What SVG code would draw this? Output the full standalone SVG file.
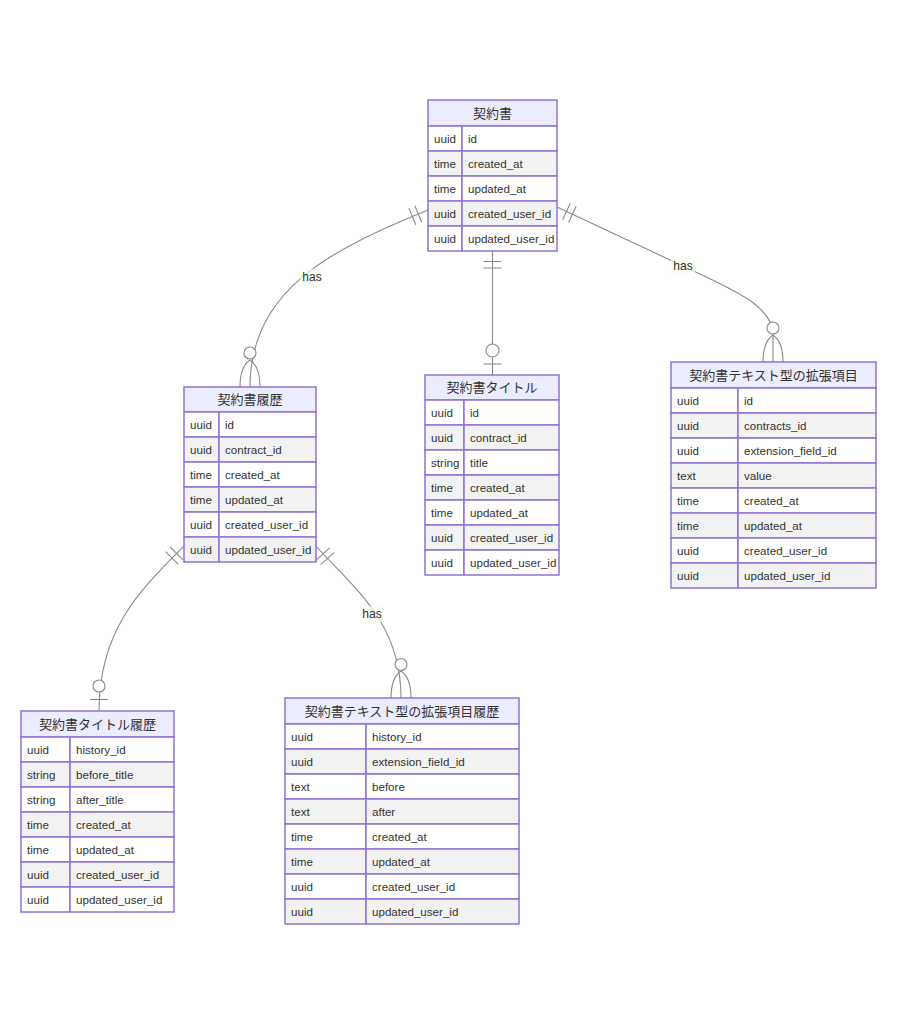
<svg xmlns="http://www.w3.org/2000/svg" width="898" height="1024" viewBox="0 0 898 1024">
<style>
.hd{fill:#ECECFF;stroke:#9370DB;stroke-width:1.5}
.w{fill:#ffffff;stroke:#9370DB;stroke-width:1.5}
.g{fill:#f2f2f2;stroke:#9370DB;stroke-width:1.5}
.t{font-family:"Liberation Sans","Noto Sans CJK JP",sans-serif;font-size:11.6px;fill:#333333;dominant-baseline:central}
.h{font-family:"Liberation Sans","Noto Sans CJK JP",sans-serif;font-size:13px;fill:#333333;text-anchor:middle;dominant-baseline:central}
.rel{fill:none;stroke:#8a8a8a;stroke-width:1.1}
.ci{fill:#ffffff;stroke:#8a8a8a;stroke-width:1.1}
.lb{fill:#f9ffec;opacity:0.7}
.lt{font-family:"Liberation Sans",sans-serif;font-size:12px;fill:#333333;text-anchor:middle;dominant-baseline:central}
</style>
<rect x="0" y="0" width="898" height="1024" fill="#ffffff"/>

<g id="connectors">
  <path class="rel" d="M428,210 C330,250 250,290 250,387"/>
  <path class="rel" d="M421.7,222.3 L414.9,205.7 M415.7,224.7 L408.9,208.1"/>
  <circle class="ci" cx="250" cy="353" r="6"/>
  <path class="rel" d="M250,360 C244,364 240,373 240,387 M250,360 C256,364 260,373 260,387"/>

  <path class="rel" d="M557,207 L700,274 C745,295 773,310 773,335 L773,362"/>
  <path class="rel" d="M562.7,219.7 L570.3,203.3 M568.6,222.4 L576.2,206"/>
  <circle class="ci" cx="773" cy="328" r="6"/>
  <path class="rel" d="M773,335 C767,339 763,348 763,362 M773,335 C779,339 783,348 783,362"/>

  <path class="rel" d="M492.5,251 L492.5,375"/>
  <path class="rel" d="M483.5,261.5 L501.5,261.5 M483.5,268 L501.5,268"/>
  <circle class="ci" cx="492.5" cy="350.5" r="6.5"/>
  <path class="rel" d="M483.5,364 L501.5,364"/>

  <path class="rel" d="M184,546 C140,590 99,630 99,711"/>
  <path class="rel" d="M183,559.8 L170.2,547 M178.4,564.4 L165.6,551.6"/>
  <circle class="ci" cx="99" cy="686" r="6"/>
  <path class="rel" d="M90,699.5 L108,699.5"/>

  <path class="rel" d="M316,546 C350,585 401,620 401,698"/>
  <path class="rel" d="M316.3,559.8 L329.7,547.8 M320.7,564.6 L334.1,552.6"/>
  <circle class="ci" cx="401" cy="664.5" r="6"/>
  <path class="rel" d="M401,671 C395,675 391,684 391,698 M401,671 C407,675 411,684 411,698"/>

  <rect class="lb" x="300" y="269" width="24" height="16"/>
  <text class="lt" x="312" y="277">has</text>
  <rect class="lb" x="671" y="258" width="24" height="16"/>
  <text class="lt" x="683" y="266">has</text>
  <rect class="lb" x="360" y="606" width="24" height="16"/>
  <text class="lt" x="372" y="614">has</text>
</g>

<g id="node-contract">
  <rect class="hd" x="428" y="100" width="129" height="26"/>
  <text class="h" x="492.5" y="113">契約書</text>
  <rect class="w" x="428" y="126" width="34" height="25"/><rect class="w" x="462" y="126" width="95" height="25"/>
  <text class="t" x="434" y="138.5">uuid</text><text class="t" x="468" y="138.5">id</text>
  <rect class="g" x="428" y="151" width="34" height="25"/><rect class="g" x="462" y="151" width="95" height="25"/>
  <text class="t" x="434" y="163.5">time</text><text class="t" x="468" y="163.5">created_at</text>
  <rect class="w" x="428" y="176" width="34" height="25"/><rect class="w" x="462" y="176" width="95" height="25"/>
  <text class="t" x="434" y="188.5">time</text><text class="t" x="468" y="188.5">updated_at</text>
  <rect class="g" x="428" y="201" width="34" height="25"/><rect class="g" x="462" y="201" width="95" height="25"/>
  <text class="t" x="434" y="213.5">uuid</text><text class="t" x="468" y="213.5">created_user_id</text>
  <rect class="w" x="428" y="226" width="34" height="25"/><rect class="w" x="462" y="226" width="95" height="25"/>
  <text class="t" x="434" y="238.5">uuid</text><text class="t" x="468" y="238.5">updated_user_id</text>
</g>

<g id="node-contract-history">
  <rect class="hd" x="184" y="387" width="132" height="25"/>
  <text class="h" x="250" y="399.5">契約書履歴</text>
  <rect class="w" x="184" y="412" width="35" height="25"/><rect class="w" x="219" y="412" width="97" height="25"/>
  <text class="t" x="190" y="424.5">uuid</text><text class="t" x="225" y="424.5">id</text>
  <rect class="g" x="184" y="437" width="35" height="25"/><rect class="g" x="219" y="437" width="97" height="25"/>
  <text class="t" x="190" y="449.5">uuid</text><text class="t" x="225" y="449.5">contract_id</text>
  <rect class="w" x="184" y="462" width="35" height="25"/><rect class="w" x="219" y="462" width="97" height="25"/>
  <text class="t" x="190" y="474.5">time</text><text class="t" x="225" y="474.5">created_at</text>
  <rect class="g" x="184" y="487" width="35" height="25"/><rect class="g" x="219" y="487" width="97" height="25"/>
  <text class="t" x="190" y="499.5">time</text><text class="t" x="225" y="499.5">updated_at</text>
  <rect class="w" x="184" y="512" width="35" height="25"/><rect class="w" x="219" y="512" width="97" height="25"/>
  <text class="t" x="190" y="524.5">uuid</text><text class="t" x="225" y="524.5">created_user_id</text>
  <rect class="g" x="184" y="537" width="35" height="25"/><rect class="g" x="219" y="537" width="97" height="25"/>
  <text class="t" x="190" y="549.5">uuid</text><text class="t" x="225" y="549.5">updated_user_id</text>
</g>

<g id="node-contract-title">
  <rect class="hd" x="425" y="375" width="134" height="25"/>
  <text class="h" x="492" y="387.5">契約書タイトル</text>
  <rect class="w" x="425" y="400" width="39" height="25"/><rect class="w" x="464" y="400" width="95" height="25"/>
  <text class="t" x="431" y="412.5">uuid</text><text class="t" x="470" y="412.5">id</text>
  <rect class="g" x="425" y="425" width="39" height="25"/><rect class="g" x="464" y="425" width="95" height="25"/>
  <text class="t" x="431" y="437.5">uuid</text><text class="t" x="470" y="437.5">contract_id</text>
  <rect class="w" x="425" y="450" width="39" height="25"/><rect class="w" x="464" y="450" width="95" height="25"/>
  <text class="t" x="431" y="462.5">string</text><text class="t" x="470" y="462.5">title</text>
  <rect class="g" x="425" y="475" width="39" height="25"/><rect class="g" x="464" y="475" width="95" height="25"/>
  <text class="t" x="431" y="487.5">time</text><text class="t" x="470" y="487.5">created_at</text>
  <rect class="w" x="425" y="500" width="39" height="25"/><rect class="w" x="464" y="500" width="95" height="25"/>
  <text class="t" x="431" y="512.5">time</text><text class="t" x="470" y="512.5">updated_at</text>
  <rect class="g" x="425" y="525" width="39" height="25"/><rect class="g" x="464" y="525" width="95" height="25"/>
  <text class="t" x="431" y="537.5">uuid</text><text class="t" x="470" y="537.5">created_user_id</text>
  <rect class="w" x="425" y="550" width="39" height="25"/><rect class="w" x="464" y="550" width="95" height="25"/>
  <text class="t" x="431" y="562.5">uuid</text><text class="t" x="470" y="562.5">updated_user_id</text>
</g>

<g id="node-contract-text-ext">
  <rect class="hd" x="671" y="362" width="205" height="26"/>
  <text class="h" x="773.5" y="375">契約書テキスト型の拡張項目</text>
  <rect class="w" x="671" y="388" width="67" height="25"/><rect class="w" x="738" y="388" width="138" height="25"/>
  <text class="t" x="677" y="400.5">uuid</text><text class="t" x="744" y="400.5">id</text>
  <rect class="g" x="671" y="413" width="67" height="25"/><rect class="g" x="738" y="413" width="138" height="25"/>
  <text class="t" x="677" y="425.5">uuid</text><text class="t" x="744" y="425.5">contracts_id</text>
  <rect class="w" x="671" y="438" width="67" height="25"/><rect class="w" x="738" y="438" width="138" height="25"/>
  <text class="t" x="677" y="450.5">uuid</text><text class="t" x="744" y="450.5">extension_field_id</text>
  <rect class="g" x="671" y="463" width="67" height="25"/><rect class="g" x="738" y="463" width="138" height="25"/>
  <text class="t" x="677" y="475.5">text</text><text class="t" x="744" y="475.5">value</text>
  <rect class="w" x="671" y="488" width="67" height="25"/><rect class="w" x="738" y="488" width="138" height="25"/>
  <text class="t" x="677" y="500.5">time</text><text class="t" x="744" y="500.5">created_at</text>
  <rect class="g" x="671" y="513" width="67" height="25"/><rect class="g" x="738" y="513" width="138" height="25"/>
  <text class="t" x="677" y="525.5">time</text><text class="t" x="744" y="525.5">updated_at</text>
  <rect class="w" x="671" y="538" width="67" height="25"/><rect class="w" x="738" y="538" width="138" height="25"/>
  <text class="t" x="677" y="550.5">uuid</text><text class="t" x="744" y="550.5">created_user_id</text>
  <rect class="g" x="671" y="563" width="67" height="25"/><rect class="g" x="738" y="563" width="138" height="25"/>
  <text class="t" x="677" y="575.5">uuid</text><text class="t" x="744" y="575.5">updated_user_id</text>
</g>

<g id="node-contract-title-history">
  <rect class="hd" x="21" y="711" width="153" height="26"/>
  <text class="h" x="97.5" y="724">契約書タイトル履歴</text>
  <rect class="w" x="21" y="737" width="49" height="25"/><rect class="w" x="70" y="737" width="104" height="25"/>
  <text class="t" x="27" y="749.5">uuid</text><text class="t" x="76" y="749.5">history_id</text>
  <rect class="g" x="21" y="762" width="49" height="25"/><rect class="g" x="70" y="762" width="104" height="25"/>
  <text class="t" x="27" y="774.5">string</text><text class="t" x="76" y="774.5">before_title</text>
  <rect class="w" x="21" y="787" width="49" height="25"/><rect class="w" x="70" y="787" width="104" height="25"/>
  <text class="t" x="27" y="799.5">string</text><text class="t" x="76" y="799.5">after_title</text>
  <rect class="g" x="21" y="812" width="49" height="25"/><rect class="g" x="70" y="812" width="104" height="25"/>
  <text class="t" x="27" y="824.5">time</text><text class="t" x="76" y="824.5">created_at</text>
  <rect class="w" x="21" y="837" width="49" height="25"/><rect class="w" x="70" y="837" width="104" height="25"/>
  <text class="t" x="27" y="849.5">time</text><text class="t" x="76" y="849.5">updated_at</text>
  <rect class="g" x="21" y="862" width="49" height="25"/><rect class="g" x="70" y="862" width="104" height="25"/>
  <text class="t" x="27" y="874.5">uuid</text><text class="t" x="76" y="874.5">created_user_id</text>
  <rect class="w" x="21" y="887" width="49" height="25"/><rect class="w" x="70" y="887" width="104" height="25"/>
  <text class="t" x="27" y="899.5">uuid</text><text class="t" x="76" y="899.5">updated_user_id</text>
</g>

<g id="node-contract-text-ext-history">
  <rect class="hd" x="285" y="698" width="234" height="26"/>
  <text class="h" x="402" y="711">契約書テキスト型の拡張項目履歴</text>
  <rect class="w" x="285" y="724" width="81" height="25"/><rect class="w" x="366" y="724" width="153" height="25"/>
  <text class="t" x="291" y="736.5">uuid</text><text class="t" x="372" y="736.5">history_id</text>
  <rect class="g" x="285" y="749" width="81" height="25"/><rect class="g" x="366" y="749" width="153" height="25"/>
  <text class="t" x="291" y="761.5">uuid</text><text class="t" x="372" y="761.5">extension_field_id</text>
  <rect class="w" x="285" y="774" width="81" height="25"/><rect class="w" x="366" y="774" width="153" height="25"/>
  <text class="t" x="291" y="786.5">text</text><text class="t" x="372" y="786.5">before</text>
  <rect class="g" x="285" y="799" width="81" height="25"/><rect class="g" x="366" y="799" width="153" height="25"/>
  <text class="t" x="291" y="811.5">text</text><text class="t" x="372" y="811.5">after</text>
  <rect class="w" x="285" y="824" width="81" height="25"/><rect class="w" x="366" y="824" width="153" height="25"/>
  <text class="t" x="291" y="836.5">time</text><text class="t" x="372" y="836.5">created_at</text>
  <rect class="g" x="285" y="849" width="81" height="25"/><rect class="g" x="366" y="849" width="153" height="25"/>
  <text class="t" x="291" y="861.5">time</text><text class="t" x="372" y="861.5">updated_at</text>
  <rect class="w" x="285" y="874" width="81" height="25"/><rect class="w" x="366" y="874" width="153" height="25"/>
  <text class="t" x="291" y="886.5">uuid</text><text class="t" x="372" y="886.5">created_user_id</text>
  <rect class="g" x="285" y="899" width="81" height="25"/><rect class="g" x="366" y="899" width="153" height="25"/>
  <text class="t" x="291" y="911.5">uuid</text><text class="t" x="372" y="911.5">updated_user_id</text>
</g>
</svg>
